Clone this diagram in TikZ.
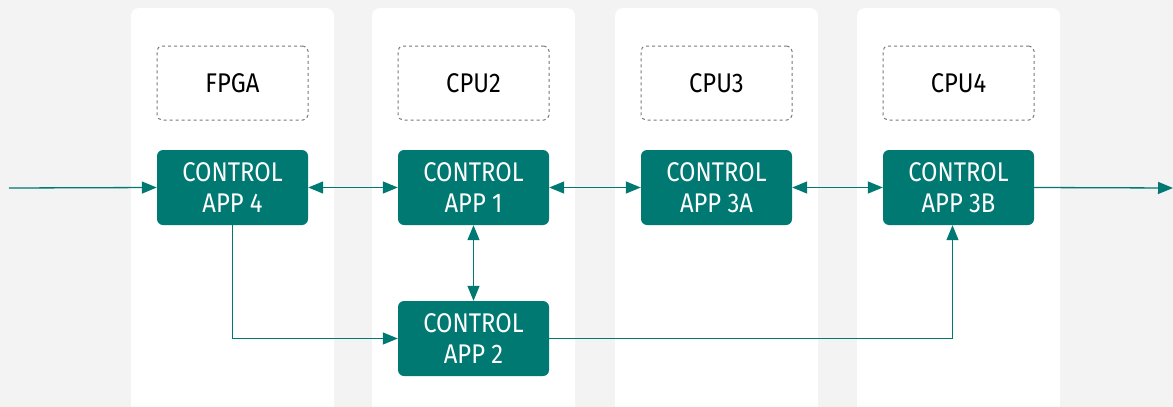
\documentclass[tikz,border=0pt]{standalone}
\usepackage{fontspec}
\setmainfont{Fira Sans}[FakeStretch=0.88]
\usetikzlibrary{arrows.meta}
\definecolor{teal}{RGB}{0,121,115}
\definecolor{bg}{RGB}{243,243,243}
\definecolor{dashgray}{RGB}{120,120,120}
\begin{document}
\begin{tikzpicture}[x=1pt,y=-1pt,
  col/.style={fill=white,rounded corners=8pt},
  hw/.style={draw=dashgray,dashed,line width=1pt,rounded corners=5pt,minimum width=151pt,minimum height=74pt,font=\fontsize{27}{26}\selectfont,text=black,inner sep=0pt},
  app/.style={fill=teal,rounded corners=6pt,minimum width=151pt,minimum height=75pt,font=\fontsize{27}{31}\selectfont,text=white,align=center,inner sep=0pt},
  conn/.style={draw=teal,line width=1.3pt,-{Triangle[length=15pt,width=12pt]}},
  bconn/.style={draw=teal,line width=1.3pt,{Triangle[length=15pt,width=12pt]}-{Triangle[length=15pt,width=12pt]}},
  ]
\fill[bg] (0,0) rectangle (1173,407);
\useasboundingbox (0,0) rectangle (1173,407);
\fill[col] (131,420) -- (131,8) -- (334,8) -- (334,420) -- cycle;
\fill[col] (372,420) -- (372,8) -- (575,8) -- (575,420) -- cycle;
\fill[col] (615,420) -- (615,8) -- (818,8) -- (818,420) -- cycle;
\fill[col] (857,420) -- (857,8) -- (1060,8) -- (1060,420) -- cycle;
\node[hw] (fpga) at (232.5,83) {FPGA};
\node[hw] (cpu2) at (473.5,83) {CPU2};
\node[hw] (cpu3) at (716.5,83) {CPU3};
\node[hw] (cpu4) at (958.5,83) {CPU4};
\node[app] (a4) at (232.5,187.5) {CONTROL\\APP 4};
\node[app] (a1) at (473.5,187.5) {CONTROL\\APP 1};
\node[app] (a3a) at (716.5,187.5) {CONTROL\\APP 3A};
\node[app] (a3b) at (958.5,187.5) {CONTROL\\APP 3B};
\node[app] (a2) at (473.5,338.5) {CONTROL\\APP 2};
\coordinate (in) at (9,188);
\coordinate (out) at (1173,188);
\draw[conn] (in) -- (a4.west);
\draw[bconn] (a4.east) -- (a1.west);
\draw[bconn] (a1.east) -- (a3a.west);
\draw[bconn] (a3a.east) -- (a3b.west);
\draw[conn] (a3b.east) -- (out);
\draw[bconn] (a1.south) -- (a2.north);
\draw[conn] (a4.south) |- (a2.west);
\draw[conn] (a2.east) -| ([xshift=-6pt]a3b.south);
\end{tikzpicture}
\end{document}
